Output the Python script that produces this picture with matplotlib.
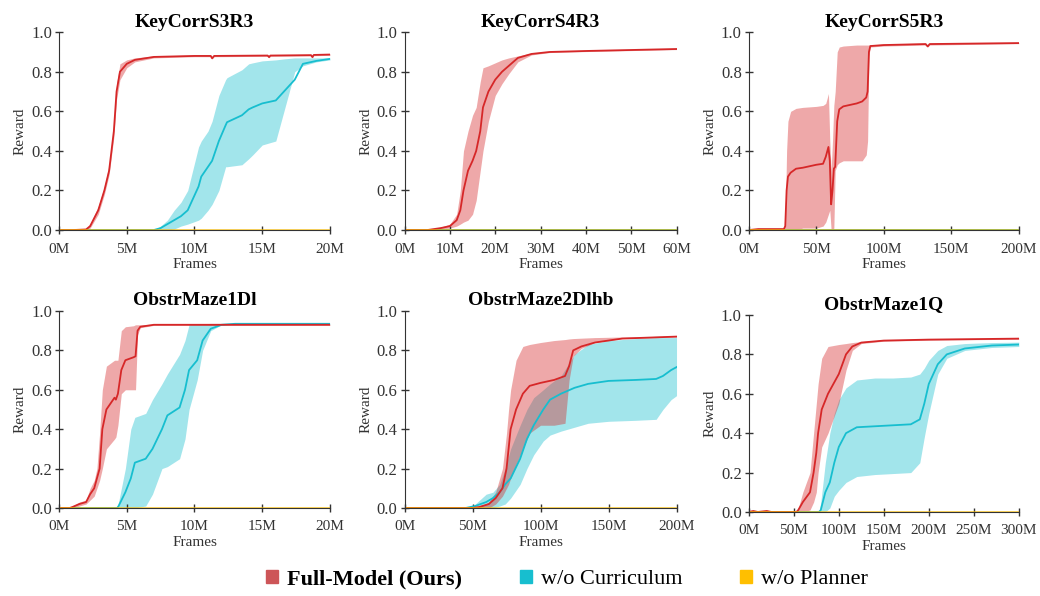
import numpy as np
import matplotlib.pyplot as plt
from matplotlib.patches import Patch

plt.rcParams['font.family'] = ['Liberation Serif', 'DejaVu Serif']

RED = '#d62728'
CYAN = '#17becf'
YELLOW = '#ffbf00'

titles = ['KeyCorrS3R3', 'KeyCorrS4R3', 'KeyCorrS5R3',
          'ObstrMaze1Dl', 'ObstrMaze2Dlhb', 'ObstrMaze1Q']
xmax = [20, 60, 200, 20, 200, 300]
xstep = [5, 10, 50, 5, 50, 50]

# ---- KeyCorrS3R3 ----
p1_red_x = [0, 1, 2.0, 2.3, 2.9, 3.35, 3.7, 4.05, 4.25, 4.5, 5.0, 5.6, 7, 10, 11.2, 11.3, 11.45, 15.4, 15.5, 15.6, 18.6, 18.7, 18.8, 20]
p1_red_m = [0, 0, 0.003, 0.02, 0.1, 0.2, 0.3, 0.5, 0.7, 0.8, 0.84, 0.86, 0.875, 0.88, 0.88, 0.868, 0.88, 0.882, 0.874, 0.882, 0.884, 0.874, 0.885, 0.887]
p1_red_lo = [0, 0, 0, 0.01, 0.08, 0.18, 0.28, 0.47, 0.66, 0.76, 0.82, 0.85, 0.87, 0.876, 0.876, 0.864, 0.876, 0.878, 0.87, 0.878, 0.88, 0.87, 0.881, 0.883]
p1_red_hi = [0, 0, 0.006, 0.03, 0.12, 0.22, 0.33, 0.53, 0.74, 0.84, 0.86, 0.87, 0.88, 0.884, 0.884, 0.872, 0.884, 0.886, 0.878, 0.886, 0.888, 0.878, 0.889, 0.891]
p1_cyan_x = [0, 7, 7.5, 8.0, 8.5, 9.0, 9.5, 10.3, 10.5, 11.0, 11.3, 11.8, 12.3, 12.4, 13.5, 14.0, 14.3, 15.0, 16.0, 16.6, 17.4, 18.0, 19.0, 20]
p1_cyan_m = [0, 0, 0.01, 0.03, 0.05, 0.07, 0.1, 0.22, 0.27, 0.32, 0.35, 0.45, 0.53, 0.545, 0.58, 0.61, 0.62, 0.64, 0.655, 0.7, 0.76, 0.84, 0.855, 0.865]
p1_cyan_lo = [0, 0, 0, 0, 0.005, 0.02, 0.03, 0.05, 0.06, 0.1, 0.13, 0.2, 0.32, 0.32, 0.33, 0.36, 0.38, 0.43, 0.45, 0.6, 0.8, 0.83, 0.85, 0.86]
p1_cyan_hi = [0, 0, 0.02, 0.05, 0.1, 0.14, 0.2, 0.42, 0.45, 0.5, 0.55, 0.68, 0.76, 0.77, 0.81, 0.84, 0.845, 0.855, 0.86, 0.865, 0.87, 0.87, 0.87, 0.87]

# ---- KeyCorrS4R3 ----
p2_red_x = [0, 5, 8, 10, 11.5, 12.3, 13, 14, 15, 15.8, 16.7, 17.3, 18.5, 20, 21.5, 23, 25, 28, 32, 40, 50, 60]
p2_red_m = [0, 0, 0.01, 0.02, 0.05, 0.1, 0.2, 0.3, 0.35, 0.4, 0.5, 0.62, 0.7, 0.76, 0.8, 0.83, 0.87, 0.89, 0.9, 0.905, 0.91, 0.915]
p2_red_lo = [0, 0, 0.005, 0.01, 0.02, 0.03, 0.04, 0.05, 0.08, 0.15, 0.3, 0.4, 0.55, 0.68, 0.74, 0.79, 0.85, 0.885, 0.897, 0.902, 0.907, 0.912]
p2_red_hi = [0, 0, 0.015, 0.03, 0.08, 0.2, 0.4, 0.5, 0.58, 0.62, 0.75, 0.82, 0.83, 0.845, 0.86, 0.87, 0.88, 0.895, 0.903, 0.908, 0.913, 0.918]

# ---- KeyCorrS5R3 ----
p3_red_x = [0, 7, 26, 27, 28, 29, 31, 35, 40, 50, 55, 57, 59, 60, 61, 62, 63, 64, 65.5, 67, 70, 80, 84, 87, 88, 89, 90, 100, 131, 132.5, 134, 200]
p3_red_m = [0, 0.005, 0.005, 0.02, 0.2, 0.27, 0.29, 0.31, 0.315, 0.33, 0.335, 0.37, 0.42, 0.35, 0.13, 0.2, 0.31, 0.32, 0.55, 0.61, 0.625, 0.64, 0.65, 0.67, 0.7, 0.9, 0.93, 0.935, 0.94, 0.928, 0.94, 0.945]
p3_red_lo = [0, 0.005, 0.005, 0.0, 0.0, 0.0, 0.0, 0.0, 0.01, 0.01, 0.02, 0.04, 0.08, 0.1, 0.0, 0.0, 0.01, 0.3, 0.33, 0.34, 0.35, 0.35, 0.35, 0.38, 0.45, 0.88, 0.925, 0.93, 0.935, 0.925, 0.935, 0.942]
p3_red_hi = [0, 0.005, 0.005, 0.05, 0.4, 0.55, 0.6, 0.615, 0.62, 0.625, 0.63, 0.64, 0.69, 0.45, 0.3, 0.45, 0.63, 0.7, 0.9, 0.925, 0.93, 0.935, 0.935, 0.935, 0.935, 0.935, 0.935, 0.94, 0.945, 0.932, 0.945, 0.948]

# ---- ObstrMaze1Dl ----
p4_red_x = [0, 0.8, 1, 1.5, 2, 2.3, 2.6, 2.8, 3.0, 3.2, 3.5, 4.1, 4.2, 4.35, 4.6, 4.9, 5.5, 5.65, 5.8, 6, 7, 20]
p4_red_m = [0, 0, 0.005, 0.02, 0.03, 0.07, 0.1, 0.15, 0.2, 0.4, 0.5, 0.56, 0.55, 0.58, 0.7, 0.75, 0.765, 0.77, 0.9, 0.92, 0.93, 0.93]
p4_red_lo = [0, 0, 0, 0.01, 0.02, 0.04, 0.06, 0.1, 0.14, 0.2, 0.3, 0.35, 0.36, 0.42, 0.58, 0.6, 0.6, 0.6, 0.88, 0.915, 0.927, 0.927]
p4_red_hi = [0, 0, 0.01, 0.03, 0.04, 0.1, 0.14, 0.2, 0.38, 0.6, 0.72, 0.75, 0.75, 0.75, 0.9, 0.92, 0.925, 0.93, 0.93, 0.93, 0.933, 0.933]
p4_cyan_x = [0, 4.3, 4.4, 4.9, 5.3, 5.6, 6.4, 6.9, 7.6, 8.0, 8.9, 9.3, 9.6, 10.2, 10.6, 11.2, 12, 13, 20]
p4_cyan_m = [0, 0, 0.01, 0.08, 0.15, 0.23, 0.25, 0.3, 0.4, 0.47, 0.51, 0.6, 0.7, 0.75, 0.85, 0.91, 0.93, 0.935, 0.935]
p4_cyan_lo = [0, 0, 0, 0, 0, 0, 0.01, 0.07, 0.2, 0.21, 0.25, 0.35, 0.5, 0.65, 0.8, 0.9, 0.93, 0.933, 0.933]
p4_cyan_hi = [0, 0, 0.03, 0.2, 0.4, 0.46, 0.48, 0.55, 0.63, 0.68, 0.78, 0.85, 0.93, 0.935, 0.935, 0.937, 0.937, 0.938, 0.938]

# ---- ObstrMaze2Dlhb ----
p5_red_x = [0, 50, 55, 62, 67, 72, 75, 76.5, 78, 82, 87, 92, 100, 110, 118, 121, 124, 130, 140, 160, 180, 200]
p5_red_m = [0, 0, 0.005, 0.02, 0.05, 0.1, 0.2, 0.3, 0.4, 0.5, 0.58, 0.62, 0.635, 0.65, 0.67, 0.72, 0.8, 0.82, 0.84, 0.86, 0.865, 0.87]
p5_red_lo = [0, 0, 0, 0, 0.02, 0.06, 0.1, 0.12, 0.15, 0.22, 0.3, 0.38, 0.42, 0.42, 0.43, 0.65, 0.77, 0.81, 0.84, 0.86, 0.864, 0.868]
p5_red_hi = [0, 0, 0.005, 0.03, 0.08, 0.2, 0.38, 0.5, 0.6, 0.75, 0.82, 0.83, 0.84, 0.85, 0.855, 0.858, 0.86, 0.862, 0.865, 0.868, 0.87, 0.875]
p5_cyan_x = [0, 45, 52, 60, 65, 70, 74, 78, 85, 90, 95, 102, 107, 115, 125, 135, 150, 170, 185, 190, 196, 200]
p5_cyan_m = [0, 0, 0.01, 0.03, 0.05, 0.08, 0.12, 0.15, 0.25, 0.35, 0.42, 0.5, 0.55, 0.58, 0.61, 0.63, 0.645, 0.65, 0.655, 0.67, 0.7, 0.715]
p5_cyan_lo = [0, 0, 0, 0, 0, 0.01, 0.02, 0.05, 0.12, 0.2, 0.27, 0.34, 0.37, 0.39, 0.41, 0.43, 0.44, 0.445, 0.45, 0.5, 0.55, 0.57]
p5_cyan_hi = [0, 0, 0.02, 0.07, 0.08, 0.12, 0.2, 0.3, 0.42, 0.5, 0.56, 0.6, 0.63, 0.67, 0.78, 0.83, 0.85, 0.86, 0.865, 0.865, 0.865, 0.865]

# ---- ObstrMaze1Q ----
p6_red_x = [0, 5, 10, 20, 25, 53, 55, 60, 68, 72, 75, 77, 81, 88, 100, 108, 115, 125, 150, 200, 300]
p6_red_m = [0, 0.005, 0.0, 0.005, 0, 0, 0.01, 0.05, 0.1, 0.2, 0.3, 0.4, 0.52, 0.6, 0.7, 0.8, 0.84, 0.86, 0.87, 0.875, 0.88]
p6_red_lo = [0, 0, 0, 0, 0, 0, 0, 0, 0.01, 0.05, 0.1, 0.2, 0.33, 0.4, 0.55, 0.72, 0.82, 0.855, 0.867, 0.872, 0.877]
p6_red_hi = [0, 0.005, 0, 0.005, 0, 0, 0.02, 0.1, 0.2, 0.4, 0.55, 0.65, 0.78, 0.84, 0.85, 0.855, 0.86, 0.865, 0.873, 0.878, 0.883]
p6_cyan_x = [0, 78, 80, 85, 90, 95, 100, 108, 120, 140, 160, 180, 190, 195, 200, 210, 220, 240, 270, 300]
p6_cyan_m = [0, 0, 0.01, 0.1, 0.15, 0.25, 0.33, 0.4, 0.43, 0.435, 0.44, 0.445, 0.47, 0.55, 0.65, 0.75, 0.8, 0.83, 0.845, 0.85]
p6_cyan_lo = [0, 0, 0, 0, 0.02, 0.08, 0.11, 0.15, 0.18, 0.19, 0.195, 0.2, 0.25, 0.38, 0.5, 0.7, 0.78, 0.82, 0.835, 0.84]
p6_cyan_hi = [0, 0, 0.05, 0.25, 0.4, 0.5, 0.57, 0.63, 0.67, 0.68, 0.68, 0.685, 0.7, 0.73, 0.77, 0.82, 0.845, 0.855, 0.86, 0.862]

red_runs = [(p1_red_x, p1_red_m, p1_red_lo, p1_red_hi),
            (p2_red_x, p2_red_m, p2_red_lo, p2_red_hi),
            (p3_red_x, p3_red_m, p3_red_lo, p3_red_hi),
            (p4_red_x, p4_red_m, p4_red_lo, p4_red_hi),
            (p5_red_x, p5_red_m, p5_red_lo, p5_red_hi),
            (p6_red_x, p6_red_m, p6_red_lo, p6_red_hi)]
cyan_runs = [(p1_cyan_x, p1_cyan_m, p1_cyan_lo, p1_cyan_hi),
             None, None,
             (p4_cyan_x, p4_cyan_m, p4_cyan_lo, p4_cyan_hi),
             (p5_cyan_x, p5_cyan_m, p5_cyan_lo, p5_cyan_hi),
             (p6_cyan_x, p6_cyan_m, p6_cyan_lo, p6_cyan_hi)]

fig = plt.figure(figsize=(10.4, 5.96), dpi=100)

lefts = [0.0567, 0.389, 0.720]
rects = [(lefts[0], 0.614, 0.2606, 0.332), (lefts[1], 0.614, 0.2615, 0.332), (lefts[2], 0.614, 0.2596, 0.332),
         (lefts[0], 0.1477, 0.2606, 0.3305), (lefts[1], 0.1477, 0.2615, 0.3305), (lefts[2], 0.141, 0.2596, 0.3305)]

for i in range(6):
    ax = fig.add_axes(rects[i])
    c = cyan_runs[i]
    if c is not None:
        ax.fill_between(c[0], c[2], c[3], color=CYAN, alpha=0.4, lw=0)
        ax.plot(c[0], c[1], color=CYAN, lw=1.3)
    else:
        ax.plot([0, xmax[i]], [0, 0], color=CYAN, lw=1.3)
    r = red_runs[i]
    ax.fill_between(r[0], r[2], r[3], color=RED, alpha=0.4, lw=0)
    ax.plot(r[0], r[1], color=RED, lw=1.3)
    ax.plot([0, xmax[i]], [0, 0], color=YELLOW, lw=1.3, alpha=0.7)

    ax.set_xlim(0, xmax[i])
    ax.set_ylim(0, 1.0)
    ticks = np.arange(0, xmax[i] + 1, xstep[i])
    ax.set_xticks(ticks)
    ax.set_xticklabels([f'{int(t)}M' for t in ticks])
    ax.set_yticks([0, 0.2, 0.4, 0.6, 0.8, 1.0])
    ax.set_yticklabels(['0.0', '0.2', '0.4', '0.6', '0.8', '1.0'])
    ax.spines['top'].set_visible(False)
    ax.spines['right'].set_visible(False)
    ax.spines['left'].set_color('#333333')
    ax.spines['bottom'].set_color('#333333')
    ax.tick_params(axis='both', colors='#333333', direction='inout', length=6, width=1)
    ax.tick_params(axis='y', labelsize=12, pad=2)
    ax.tick_params(axis='x', labelsize=11, pad=6)
    ax.set_xlabel('Frames', fontsize=11, labelpad=2, color='#333333')
    ax.set_ylabel('Reward', fontsize=11, labelpad=3, color='#333333')
    ax.set_title(titles[i], fontsize=14, fontweight='bold', pad=4)

handles = [Patch(color='#cd5558'), Patch(color=CYAN), Patch(color=YELLOW)]
leg = fig.legend(handles, ['Full-Model (Ours)', 'w/o Curriculum', 'w/o Planner'],
                 loc='lower center', bbox_to_anchor=(0.545, -0.022), ncol=3, frameon=False,
                 fontsize=16, handlelength=0.55, handleheight=0.55, handletextpad=0.4,
                 columnspacing=2.6)
leg.get_texts()[0].set_fontweight('bold')

fig.savefig('out.png', dpi=100)
